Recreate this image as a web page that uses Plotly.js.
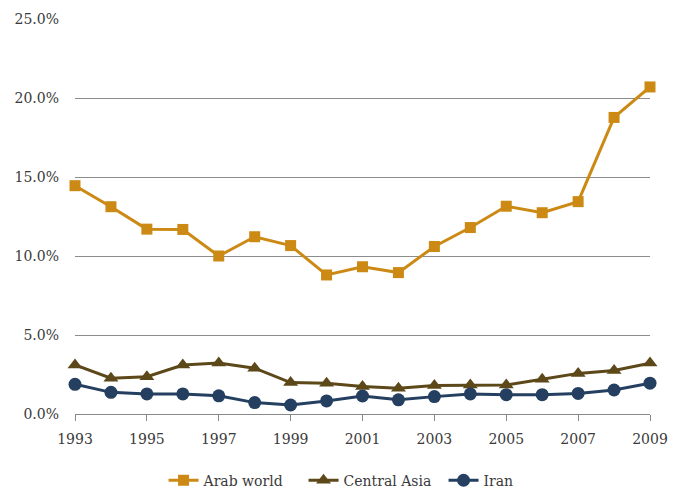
<!DOCTYPE html>
<html><head><meta charset="utf-8">
<script src="https://cdn.plot.ly/plotly-3.0.1.min.js"></script>
<style>html,body{margin:0;padding:0;background:#fff}#c{width:680px;height:493px}</style>
</head><body><div id="c"></div>
<script>
const years = [1993,1994,1995,1996,1997,1998,1999,2000,2001,2002,2003,2004,2005,2006,2007,2008,2009];
const arabWorld = [14.45,13.12,11.7,11.68,10.0,11.22,10.66,8.8,9.32,8.95,10.6,11.8,13.15,12.74,13.44,18.77,20.7];
const centralAsia = [3.1,2.27,2.36,3.1,3.22,2.9,1.99,1.94,1.74,1.63,1.8,1.83,1.84,2.2,2.57,2.75,3.22];
const iran = [1.88,1.37,1.27,1.27,1.15,0.72,0.57,0.83,1.14,0.9,1.1,1.27,1.22,1.22,1.3,1.52,1.95];
const seriesNames = ["Arab world","Central Asia","Iran"];
const xTicks = [1993,1995,1997,1999,2001,2003,2005,2007,2009];
const yTicks = [0,5,10,15,20,25];

const font = {family:"DejaVu Serif", size:14, color:"#3a3a3a"};
function tr(name, y, color, symbol, size){
  return {x:years, y:y, name:name, type:"scatter", mode:"lines+markers",
    line:{color:color, width:3}, marker:{symbol:symbol, size:size, color:color}, cliponaxis:false};
}
const data = [
  tr(seriesNames[0], arabWorld, "#CC8A14", "square", 11),
  tr(seriesNames[1], centralAsia, "#5C4819", "triangle-up", 13),
  tr(seriesNames[2], iran, "#243F60", "circle", 13)
];
const layout = {
  width:680, height:493, margin:{l:75, r:30, t:19, b:79, autoexpand:false},
  paper_bgcolor:"#fff", plot_bgcolor:"#fff", font:font, showlegend:true,
  xaxis:{range:[1993,2009], tickvals:xTicks, ticktext:xTicks.map(String), showgrid:false,
    zeroline:false, showline:true, linecolor:"#888", linewidth:1, ticks:"outside", ticklen:6,
    tickcolor:"#888", tickfont:font, ticklabelstandoff:6, fixedrange:true},
  yaxis:{range:[0,25], tickvals:yTicks, ticktext:yTicks.map(v=>v.toFixed(1)+"%"), showgrid:true,
    gridcolor:"#8c8c8c", gridwidth:1, zeroline:false, showline:false, ticks:"", tickfont:font,
    ticklabelstandoff:15, fixedrange:true},
  legend:{orientation:"h", x:0.154, xanchor:"left", yref:"container", y:0.025, yanchor:"middle",
    font:font, tracegroupgap:0, entrywidth:95, entrywidthmode:"pixels"}
};
Plotly.newPlot("c", data, layout, {staticPlot:true});
</script></body></html>
